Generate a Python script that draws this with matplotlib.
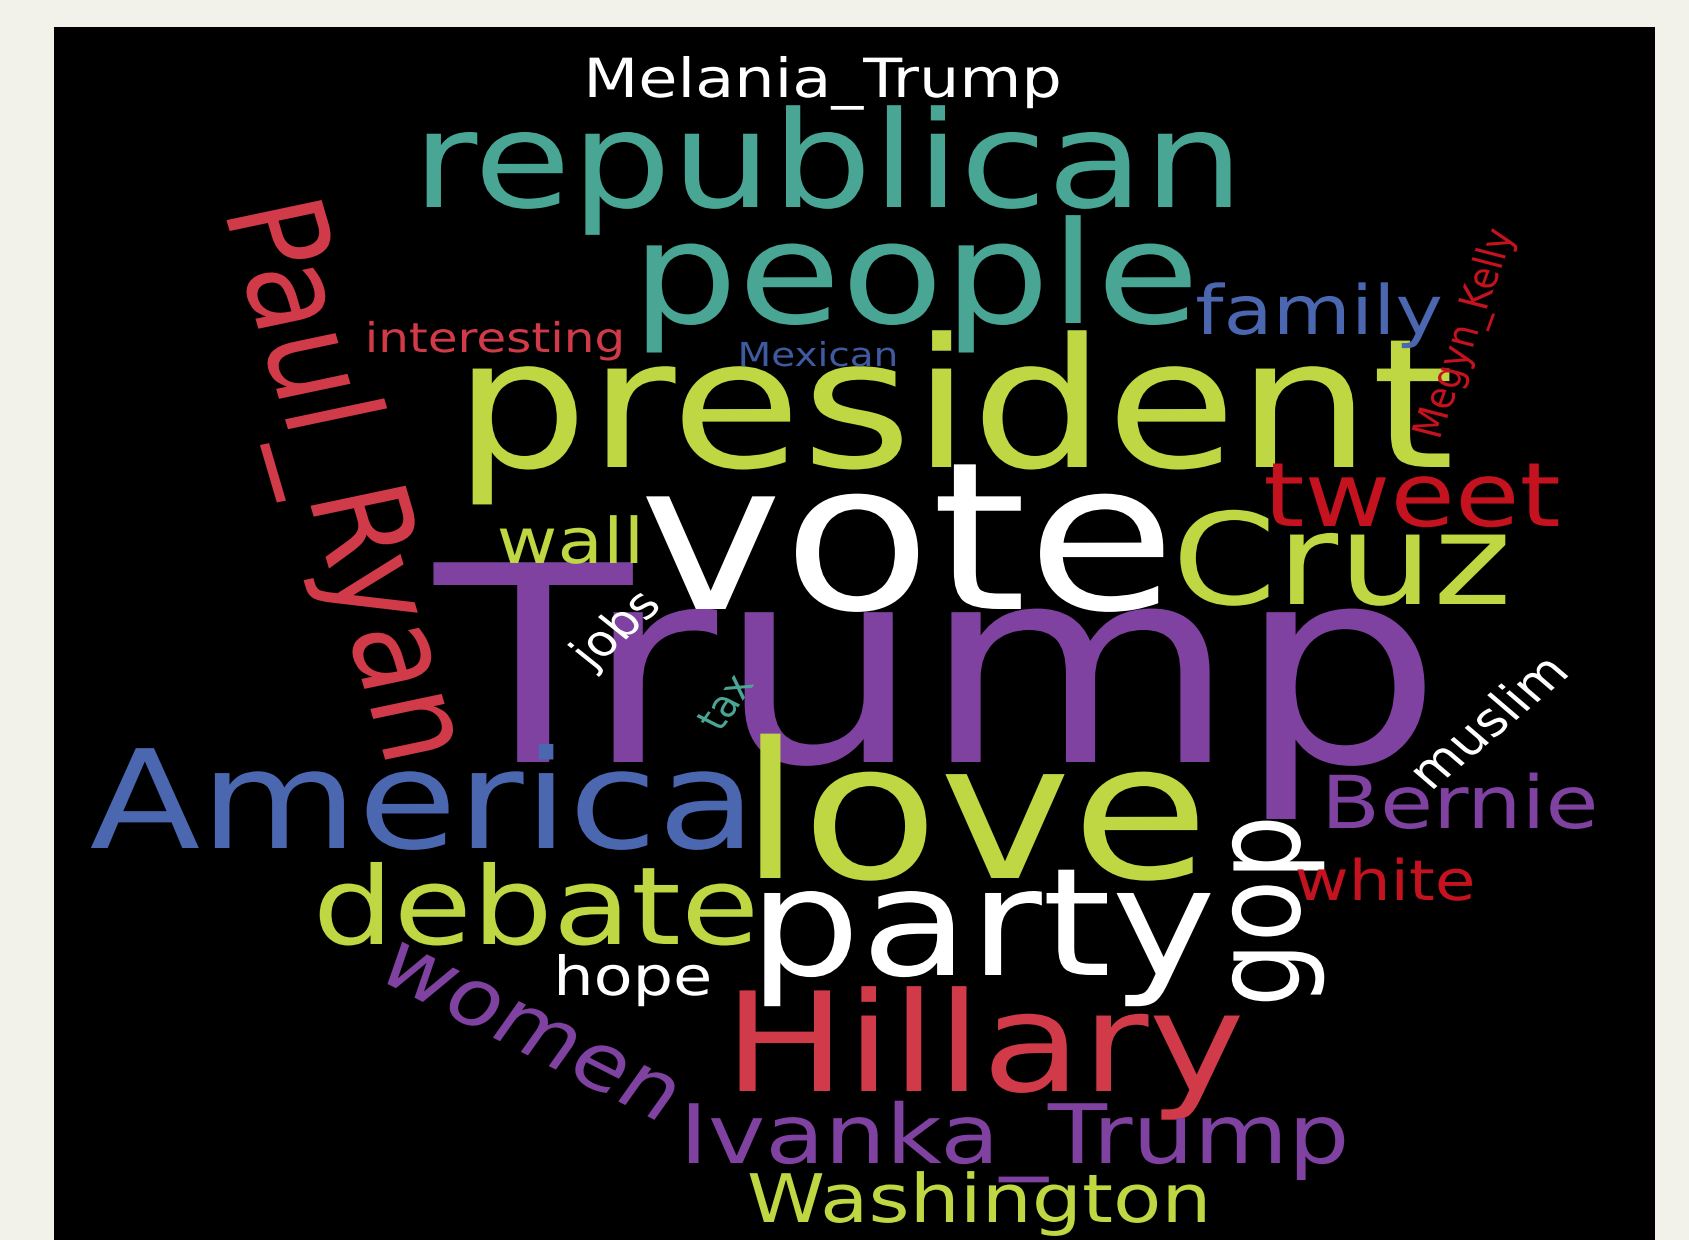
import matplotlib
matplotlib.use("Agg")
import matplotlib.pyplot as plt
from matplotlib.patches import Rectangle
from matplotlib.patheffects import AbstractPathEffect
from matplotlib.transforms import Affine2D
import numpy as np

# ---- data: words and their weights (font size in px at 1690x1240) ----
words = ["Trump", "vote", "love", "president", "people", "republican", "party",
         "America", "Hillary", "Cruz", "debate", "Paul_Ryan", "gop", "tweet",
         "women", "Ivanka_Trump", "Bernie", "family", "Washington",
         "Melania_Trump", "white", "hope", "wall", "muslim", "interesting",
         "jobs", "Mexican", "Megyn_Kelly", "tax"]
weights = [274, 206, 190, 180, 142, 134, 150, 137, 138, 127, 108, 114, 102, 89,
           78, 82, 73, 68, 67, 54, 56, 54, 63, 46, 41, 43, 33, 35, 36]

# ---- style ----
TEAL = "#49a594"
LIME = "#bed742"
PURPLE = "#7f42a0"
BLUE = "#4a67b0"
RED = "#d13a48"
DRED = "#c4121f"
WHITE = "#ffffff"
DBLUE = "#3f5aa0"
colors = [PURPLE, WHITE, LIME, LIME, TEAL, TEAL, WHITE,
          BLUE, RED, LIME, LIME, RED, WHITE, DRED,
          PURPLE, PURPLE, PURPLE, BLUE, LIME,
          WHITE, DRED, WHITE, LIME, WHITE, RED,
          WHITE, DBLUE, DRED, TEAL]
HSTRETCH = 1.18  # the cloud image is shown horizontally stretched

# ---- layout (pixel positions of each word; rotation in degrees) ----
# horizontal words: (center x, baseline y); rotated words: (center x, center y)
layout_x = [937, 907, 975, 955, 916, 828, 983,
            422, 985, 1342, 536, 340, 1268, 1412,
            530, 1015, 1460, 1319, 979,
            823, 1385, 633, 570, 1490, 495,
            617, 818, 1466, 727]
layout_y = [762, 609, 878, 467, 323, 207, 975,
            848, 1091, 604, 944, 482, 911, 526,
            1031, 1163, 828, 334, 1222,
            97, 900, 995, 563, 724, 352,
            630, 366, 334, 703]
rotation = [0, 0, 0, 0, 0, 0, 0,
            0, 0, 0, 0, -76, 90, 0,
            -31, 0, 0, 0, 0,
            0, 0, 0, 0, 44.7, 0,
            46.7, 0, 73, 59]


class HStretch(AbstractPathEffect):
    """Stretch the rendered glyphs horizontally (in screen space) about their centre."""

    def __init__(self, sx, angle):
        super().__init__()
        self.sx = sx
        self.angle = angle

    def draw_path(self, renderer, gc, tpath, affine, rgbFace=None):
        ext = tpath.get_extents()
        cx, cy = (ext.x0 + ext.x1) / 2, (ext.y0 + ext.y1) / 2
        th = np.radians(self.angle)
        R = np.array([[np.cos(th), -np.sin(th)], [np.sin(th), np.cos(th)]])
        S = np.diag([self.sx, 1.0])
        M = R.T @ S @ R
        mat = np.eye(3)
        mat[:2, :2] = M
        tr = (Affine2D().translate(-cx, -cy) + Affine2D(mat)
              + Affine2D().translate(cx, cy) + affine)
        renderer.draw_path(gc, tpath, tr, rgbFace)


W, H = 1690, 1240
fig = plt.figure(figsize=(W / 100, H / 100), dpi=100)
fig.patch.set_facecolor("#f2f1ea")
ax = fig.add_axes([0, 0, 1, 1])
ax.set_xlim(0, W)
ax.set_ylim(H, 0)
ax.axis("off")
ax.add_patch(Rectangle((54, 27), 1601, 1230, facecolor="black", edgecolor="none"))

for w, s, c, x, y, r in zip(words, weights, colors, layout_x, layout_y, rotation):
    fs = s * 0.72
    kw = dict(fontsize=fs, color=c, family="DejaVu Sans",
              path_effects=[HStretch(HSTRETCH, r)])
    if r == 0:
        ax.text(x, y, w, ha="center", va="baseline", **kw)
    else:
        ax.text(x, y, w, ha="center", va="center", rotation=r,
                rotation_mode="anchor", **kw)

fig.savefig("out.png", dpi=100, facecolor=fig.get_facecolor())
